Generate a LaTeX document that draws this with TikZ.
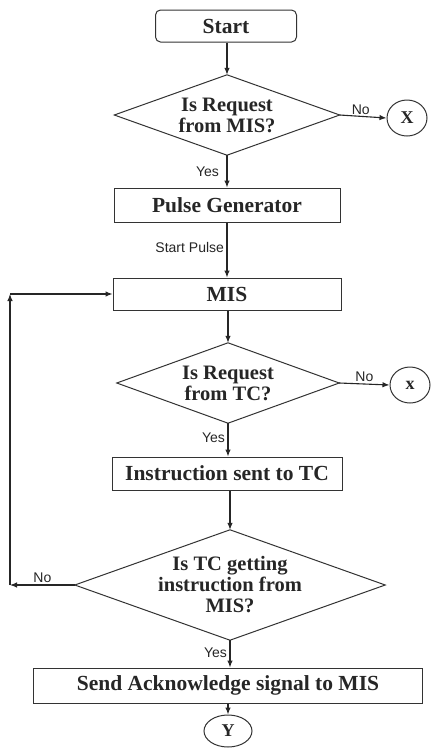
\documentclass[tikz,border=0pt]{standalone}
\usepackage{fontspec}
\setmainfont{Liberation Serif}
\newfontfamily\lblfont{Liberation Sans}
\usetikzlibrary{shapes.geometric,arrows.meta}
\begin{document}
\begin{tikzpicture}[x=1pt,y=-1pt,
  every node/.style={text=black!85},
  txt/.style={font=\fontsize{21.5}{19}\selectfont\bfseries},
  procbox/.style={txt, draw=black!80, line width=1pt, inner sep=0pt, minimum height=33pt},
  decision/.style={font=\fontsize{20.5}{21}\selectfont\bfseries, inner sep=0pt, align=center},
  dshape/.style={draw=black!80, line width=1pt, line join=miter},
  connector/.style={draw=black!80, line width=1pt, shape=ellipse, inner sep=0pt, font=\fontsize{18}{18}\selectfont\bfseries},
  arr/.style={draw=black!85, line width=1.1pt, -{Latex[length=7pt,width=5.5pt]}},
  lbl/.style={font=\lblfont\fontsize{14}{14}\selectfont, inner sep=1.5pt, text=black!85}
]
\useasboundingbox (0,0) rectangle (431,753);
\fill[white] (0,0) rectangle (431,753);

\node[procbox, rounded corners=5pt, minimum width=141pt, minimum height=32pt] (start) at (226,26) {Start};
\node[decision, minimum width=225pt, minimum height=80pt] (d1) at (227,115) {Is Request\\from MIS?};
\node[connector, minimum width=40pt, minimum height=36pt] (cx1) at (407,118) {X};
\node[procbox, minimum width=226pt, minimum height=34pt] (pg) at (227,205) {Pulse Generator};
\node[procbox, minimum width=228pt, minimum height=32pt] (mis) at (227,294) {MIS};
\node[decision, minimum width=222pt, minimum height=80pt] (d2) at (228,383) {Is Request\\from TC?};
\node[connector, minimum width=40pt, minimum height=36pt] (cx2) at (410,385) {x};
\node[procbox, minimum width=230pt, minimum height=33pt] (itc) at (227,473.5) {Instruction sent to TC};
\node[decision, minimum width=310pt, minimum height=110pt] (d3) at (230,585) {Is TC getting\\instruction from\\MIS?};
\node[procbox, minimum width=389pt, minimum height=35pt] (ack) at (228,685.5) {Send Acknowledge signal to MIS};
\node[connector, minimum width=48pt, minimum height=32pt] (cy) at (228,731) {Y};

\draw[dshape] (d1.north) -- (d1.east) -- (d1.south) -- (d1.west) -- cycle;
\draw[dshape] (d2.north) -- (d2.east) -- (d2.south) -- (d2.west) -- cycle;
\draw[dshape] (d3.north) -- (d3.east) -- (d3.south) -- (d3.west) -- cycle;

\coordinate (lb) at (10,585);
\coordinate (lt) at (10,294);

\draw[arr] (start.south -| d1.north) -- (d1.north);
\draw[arr] (d1.east) -- node[lbl, above, pos=0.45] {No} (cx1.west);
\draw[arr] (d1.south) -- node[lbl, left=6pt, pos=0.5] {Yes} (d1.south |- pg.north);
\draw[arr] (pg.south -| d1.south) -- node[lbl, left=1pt, pos=0.45] {Start Pulse} (d1.south |- mis.north);
\draw[arr] (mis.south -| d2.north) -- (d2.north);
\draw[arr] (d2.east) -- node[lbl, above, pos=0.5] {No} (cx2.west);
\draw[arr] (d2.south) -- node[lbl, left=1pt, pos=0.45] {Yes} (d2.south |- itc.north);
\draw[arr] (itc.south -| d3.north) -- (d3.north);
\draw[arr] (d3.west) -- node[lbl, above, pos=0.5] {No} (lb);
\draw[arr] (lb) -- (lt);
\draw[arr] (lt) -- (mis.west);
\draw[arr] (d3.south) -- node[lbl, left=1pt, pos=0.45] {Yes} (d3.south |- ack.north);
\draw[arr] (ack.south -| cy.north) -- (cy.north);
\end{tikzpicture}
\end{document}
